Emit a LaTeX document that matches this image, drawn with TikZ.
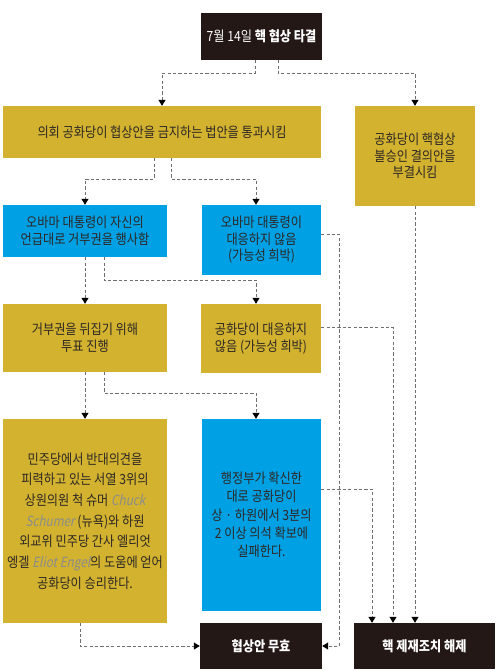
\documentclass[tikz,border=0pt]{standalone}
\usepackage{fontspec}
\setmainfont[FakeStretch=0.87]{Noto Sans CJK KR}
\newfontfamily\engit[FakeStretch=0.84,FakeSlant=0.2]{Noto Sans CJK KR}
\usetikzlibrary{positioning,calc,arrows.meta}
\definecolor{gold}{HTML}{D2B22E}
\definecolor{sky}{HTML}{00A0E4}
\definecolor{dark}{HTML}{231815}
\definecolor{ink}{HTML}{2E2826}
\definecolor{lineg}{HTML}{6E6E6E}
\definecolor{nameg}{HTML}{8C8C8C}
\newcommand{\eng}[1]{{\engit\color{nameg}#1}}

\begin{document}
\begin{tikzpicture}[
    x=1pt, y=-1pt,
    font=\fontsize{14}{16.5}\selectfont,
    box/.style={rectangle, inner sep=1pt, align=center, text=ink},
    gold/.style={box, fill=gold},
    sky/.style={box, fill=sky},
    dark/.style={box, fill=dark, text=white, font=\fontsize{14}{16.5}\selectfont\bfseries},
    flow/.style={draw=lineg, line width=1pt, dash pattern=on 3.2pt off 2.2pt,
                 -{Triangle[length=6pt, width=7pt, color=black]}},
    ]
    \useasboundingbox (0,0) rectangle (497,671);

    % decision tree
    \node[dark, font=\fontsize{14}{16.5}\selectfont, minimum width=121pt, minimum height=47pt]
        (deal) at (261.5,36.5) {7월 14일 \textbf{핵 협상 타결}};
    \node[gold, minimum width=318pt, minimum height=52pt] (ban) at (162,132)
        {의회 공화당이 협상안을 금지하는 법안을 통과시킴};
    \node[gold, minimum width=120pt, minimum height=100pt] (reject) at (415,156)
        {공화당이 핵협상\\불승인 결의안을\\부결시킴};

    \node[sky, minimum width=164pt, minimum height=52pt] (veto) at (85,231)
        {오바마 대통령이 자신의\\언급대로 거부권을 행사함};
    \node[sky, minimum width=119pt, minimum height=70pt] (noveto) at (261.5,240)
        {오바마 대통령이\\대응하지 않음\\(가능성 희박)};

    \node[gold, minimum width=164pt, minimum height=68pt] (override) at (85,338)
        {거부권을 뒤집기 위해\\투표 진행};
    \node[gold, minimum width=120pt, minimum height=69pt] (gopnone) at (261,338.5)
        {공화당이 대응하지\\않음 (가능성 희박)};

    \node[gold, font=\fontsize{14}{20.7}\selectfont, minimum width=164pt, minimum height=204pt]
        (dems) at (85,521)
        {민주당에서 반대의견을\\피력하고 있는 서열 3위의\\상원의원 척 슈머 \eng{Chuck}\\%
         \eng{Schumer} (뉴욕)와 하원\\외교위 민주당 간사 엘리엇\\%
         엥겔 \eng{Eliot Engel}의 도움에 얻어\\공화당이 승리한다.};
    \node[sky, font=\fontsize{14}{18.3}\selectfont, minimum width=119pt, minimum height=192pt]
        (fail) at (261.5,515)
        {행정부가 확신한\\대로 공화당이\\상 · 하원에서 3분의\\2 이상 의석 확보에\\실패한다.};

    \node[dark, minimum width=122pt, minimum height=46pt] (void) at (261,646) {협상안 무효};
    \node[dark, minimum width=141pt, minimum height=46pt] (lift) at (424.5,646) {핵 제재조치 해제};

    % top split
    \draw[flow] ([xshift=-6.5pt]deal.south) -- ++(0,13) -| (ban.north);
    \draw[flow] ([xshift=16.5pt]deal.south) -- ++(0,13) -| (reject.north);
    \draw[flow] (reject.south) -- (reject.south |- lift.north);
    % second row
    \draw[flow] ([xshift=-8pt]ban.south) -- ++(0,21) -| (veto.north);
    \draw[flow] ([xshift=9pt]ban.south) -- ++(0,21) -| ([xshift=-5.5pt]noveto.north);
    % third row
    \draw[flow] (veto.south) -- (override.north);
    \draw[flow] ([xshift=19pt]veto.south) -- ++(0,23) -| ([xshift=-5pt]gopnone.north);
    \draw[flow] ([yshift=6pt]noveto.east) -- ++(18,0) |- (void.east);
    % fourth row
    \draw[flow] (override.south) -- (dems.north);
    \draw[flow] ([xshift=19pt]override.south) -- ++(0,21) -| ([xshift=-5.5pt]fail.north);
    \draw[flow] ([yshift=11.5pt]gopnone.east) -| ([xshift=-31.5pt]lift.north);
    % outcomes
    \draw[flow] ([xshift=-5pt]dems.south) |- (void.west);
    \draw[flow] ([yshift=26pt]fail.east) -| ([xshift=-52.5pt]lift.north);
\end{tikzpicture}
\end{document}
